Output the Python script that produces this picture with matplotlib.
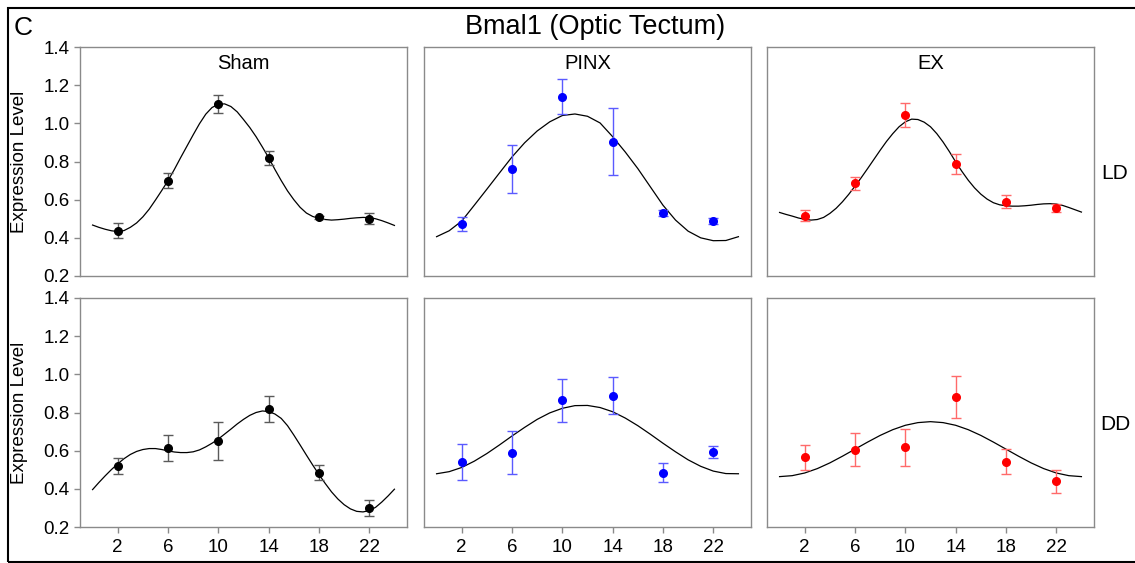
import matplotlib
matplotlib.use("Agg")
import matplotlib.pyplot as plt
from matplotlib.patches import Rectangle

plt.rcParams['font.family'] = ['Liberation Sans', 'DejaVu Sans']

# ---------------- data ----------------
hours = [2, 6, 10, 14, 18, 22]
fit_hours = list(range(25))
fit_half_hours = [h / 2 for h in range(49)]
x_ticks = [2, 6, 10, 14, 18, 22]
y_ticks = [0.2, 0.4, 0.6, 0.8, 1.0, 1.2, 1.4]
columns = ["Sham", "PINX", "EX"]
rows = ["LD", "DD"]

sham_ld_mean = [0.437, 0.700, 1.103, 0.819, 0.507, 0.500]
sham_ld_err = [0.040, 0.040, 0.047, 0.038, 0.010, 0.028]
pinx_ld_mean = [0.474, 0.762, 1.140, 0.903, 0.531, 0.489]
pinx_ld_err = [0.037, 0.125, 0.090, 0.175, 0.017, 0.017]
ex_ld_mean = [0.516, 0.685, 1.042, 0.788, 0.589, 0.557]
ex_ld_err = [0.030, 0.035, 0.063, 0.051, 0.034, 0.021]

sham_dd_mean = [0.522, 0.612, 0.650, 0.817, 0.484, 0.302]
sham_dd_err = [0.042, 0.068, 0.101, 0.067, 0.040, 0.042]
pinx_dd_mean = [0.540, 0.589, 0.864, 0.887, 0.484, 0.591]
pinx_dd_err = [0.096, 0.113, 0.113, 0.097, 0.050, 0.032]
ex_dd_mean = [0.566, 0.606, 0.617, 0.881, 0.543, 0.440]
ex_dd_err = [0.066, 0.088, 0.095, 0.110, 0.067, 0.061]

# fitted curves (half-hourly or hourly, 0..24 h)
sham_ld_fit = [0.467, 0.455, 0.445, 0.437, 0.433, 0.438, 0.455, 0.478, 0.510, 0.550,
               0.598, 0.648, 0.700, 0.758, 0.820, 0.880, 0.940, 0.998, 1.048, 1.083,
               1.100, 1.102, 1.088, 1.060, 1.020, 0.978, 0.930, 0.876, 0.820, 0.758,
               0.700, 0.646, 0.600, 0.560, 0.530, 0.512, 0.502, 0.496, 0.493, 0.495,
               0.498, 0.502, 0.505, 0.507, 0.506, 0.500, 0.490, 0.478, 0.465]
pinx_ld_fit = [0.406, 0.437, 0.488, 0.571, 0.655, 0.740, 0.824, 0.898, 0.960, 1.008,
               1.041, 1.049, 1.037, 1.002, 0.930, 0.850, 0.763, 0.667, 0.571, 0.493,
               0.435, 0.400, 0.385, 0.386, 0.406]
ex_ld_fit = [0.533, 0.523, 0.514, 0.504, 0.497, 0.493, 0.496, 0.507, 0.528, 0.555,
             0.589, 0.628, 0.671, 0.716, 0.763, 0.811, 0.859, 0.905, 0.946, 0.982,
             1.008, 1.022, 1.020, 1.006, 0.982, 0.946, 0.902, 0.852, 0.798, 0.748,
             0.702, 0.662, 0.629, 0.603, 0.584, 0.573, 0.568, 0.566, 0.566, 0.568,
             0.571, 0.575, 0.578, 0.579, 0.577, 0.570, 0.559, 0.547, 0.535]
sham_dd_fit = [0.396, 0.433, 0.468, 0.501, 0.531, 0.558, 0.580, 0.596, 0.606, 0.611,
               0.611, 0.606, 0.599, 0.593, 0.590, 0.590, 0.594, 0.604, 0.620, 0.639,
               0.661, 0.687, 0.713, 0.740, 0.764, 0.785, 0.800, 0.808, 0.805, 0.792,
               0.769, 0.731, 0.682, 0.630, 0.577, 0.525, 0.475, 0.428, 0.384, 0.347,
               0.317, 0.295, 0.282, 0.279, 0.286, 0.303, 0.331, 0.363, 0.398]
pinx_dd_fit = [0.479, 0.490, 0.512, 0.545, 0.585, 0.630, 0.677, 0.722, 0.764, 0.798,
               0.822, 0.836, 0.837, 0.826, 0.804, 0.771, 0.731, 0.686, 0.639, 0.594,
               0.552, 0.518, 0.493, 0.480, 0.479]
ex_dd_fit = [0.464, 0.469, 0.483, 0.506, 0.536, 0.571, 0.608, 0.645, 0.680, 0.710,
             0.733, 0.747, 0.752, 0.747, 0.733, 0.710, 0.680, 0.645, 0.608, 0.571,
             0.536, 0.506, 0.483, 0.469, 0.464]

panels = [
    [(sham_ld_mean, sham_ld_err, fit_half_hours, sham_ld_fit),
     (pinx_ld_mean, pinx_ld_err, fit_hours, pinx_ld_fit),
     (ex_ld_mean, ex_ld_err, fit_half_hours, ex_ld_fit)],
    [(sham_dd_mean, sham_dd_err, fit_half_hours, sham_dd_fit),
     (pinx_dd_mean, pinx_dd_err, fit_hours, pinx_dd_fit),
     (ex_dd_mean, ex_dd_err, fit_hours, ex_dd_fit)],
]
marker_colors = ["#000000", "#0000ff", "#ff0000"]
err_colors = ["#5a5a5a", "#5a5aff", "#ff6a6a"]

# ---------------- layout ----------------
W, H = 1135, 563
fig = plt.figure(figsize=(W / 100, H / 100), dpi=100)
col_left = [80, 424, 767]
row_top = [47, 298]
aw, ah = 327, 229
spine_col = "#8a8a8a"

for r in range(2):
    for c in range(3):
        ax = fig.add_axes([col_left[c] / W, 1 - (row_top[r] + ah) / H, aw / W, ah / H])
        mean, err, fx, fit = panels[r][c]
        ax.plot(fx, fit, color="black", lw=0.9, zorder=2)
        ax.errorbar(hours, mean, yerr=err, fmt="o", color=marker_colors[c],
                    ecolor=err_colors[c], elinewidth=1.0, capsize=3.5, capthick=1.0,
                    markersize=5.5, zorder=3)
        ax.set_xlim(-1, 25)
        ax.set_ylim(0.2, 1.4)
        for s in ax.spines.values():
            s.set_color(spine_col)
            s.set_linewidth(1.0)
        ax.tick_params(colors=spine_col, labelcolor="black", labelsize=13.5,
                       length=4, width=1.0, direction="out")
        ax.set_yticks(y_ticks)
        if c == 0:
            ax.set_yticklabels([f"{v:.1f}" for v in y_ticks])
            ax.set_ylabel("Expression Level", fontsize=13.5, va="center")
            ax.yaxis.set_label_coords((19 - 80) / aw, 0.5)
        else:
            ax.tick_params(axis="y", left=False, labelleft=False)
        ax.set_xticks(x_ticks)
        if r == 1:
            ax.set_xticklabels([str(v) for v in x_ticks])
            ax.tick_params(axis="x", pad=5)
        else:
            ax.tick_params(axis="x", bottom=False, labelbottom=False)
        if r == 0:
            ax.text(0.5, 0.93, columns[c], transform=ax.transAxes, ha="center",
                    va="center", fontsize=14.5)

# row labels
fig.text(1115 / W, 1 - 173 / H, rows[0], ha="center", va="center", fontsize=15)
fig.text(1115 / W, 1 - 425 / H, rows[1], ha="center", va="center", fontsize=15)

# title and panel letter
fig.text(595 / W, 1 - 27 / H, "Bmal1 (Optic Tectum)", ha="center", va="center", fontsize=19.5)
fig.text(14 / W, 1 - 28 / H, "C", ha="left", va="center", fontsize=19)

# outer frame
fig.patches.append(Rectangle((8 / W, 1 / H), 1.2, 1 - 8 / H - 1 / H,
                             transform=fig.transFigure, fill=False,
                             edgecolor="black", lw=1.5))

fig.savefig("out.png", dpi=100)
